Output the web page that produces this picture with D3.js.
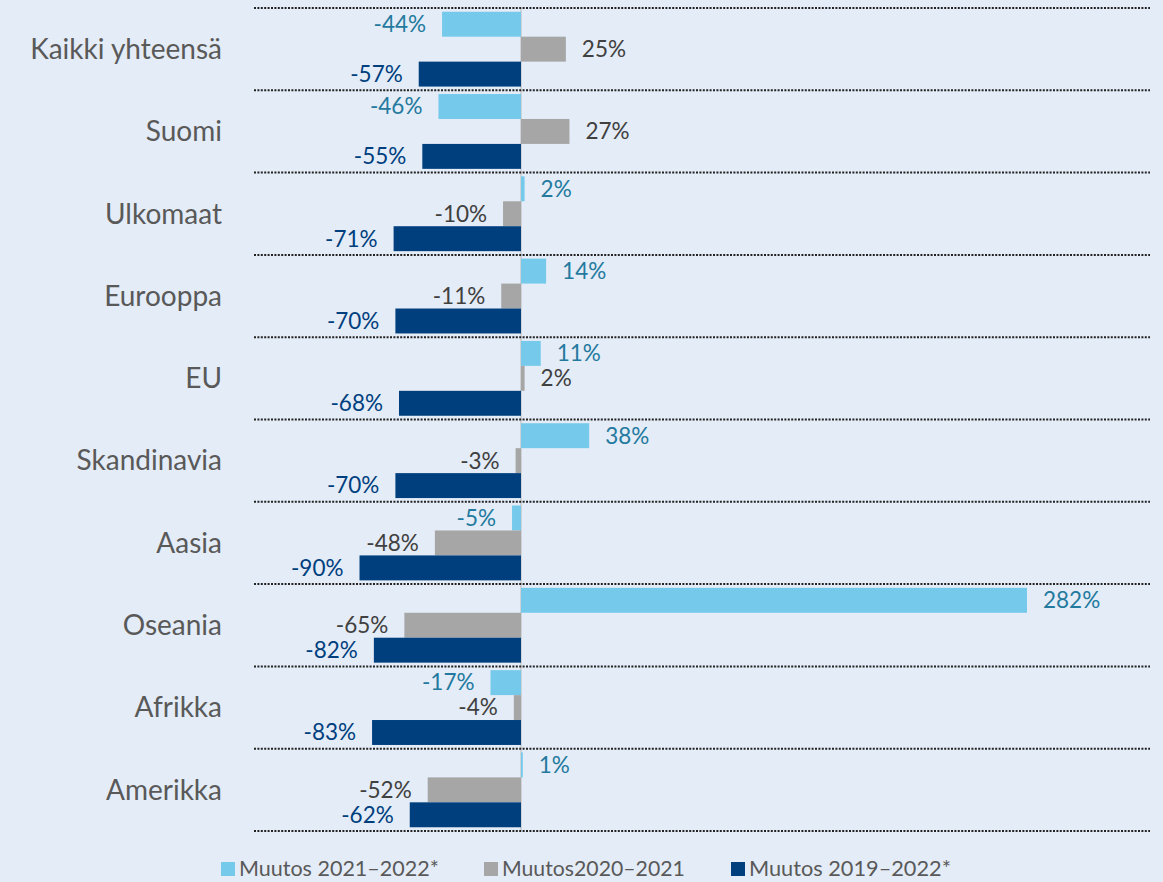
<!DOCTYPE html>
<html>
<head>
<meta charset="utf-8">
<script src="https://cdn.jsdelivr.net/npm/d3@7"></script>
<style>
  body { margin: 0; background: #e4ecf7; }
  svg { display: block; font-family: Lato, "Open Sans", sans-serif; }
</style>
</head>
<body>
<div id="chart"></div>
<script>
// Data
// ================================
var categories = ["Kaikki yhteensä", "Suomi", "Ulkomaat", "Eurooppa", "EU",
  "Skandinavia", "Aasia", "Oseania", "Afrikka", "Amerikka"];
var seriesNames = ["Muutos 2021–2022*", "Muutos2020–2021", "Muutos 2019–2022*"];
var change2122 = [-44, -46, 2, 14, 11, 38, -5, 282, -17, 1];
var change2021 = [25, 27, -10, -11, 2, -3, -48, -65, -4, -52];
var change1922 = [-57, -55, -71, -70, -68, -70, -90, -82, -83, -62];

var seriesValues = [change2122, change2021, change1922];
var barColors = ["#75caec", "#a6a6a6", "#003f7e"];
var labelColors = ["#237a9e", "#404040", "#003f7e"];

// Set up chart
// ================================
var svgWidth = 1163;
var svgHeight = 882;

var svg = d3.select("#chart")
  .append("svg")
  .attr("width", svgWidth)
  .attr("height", svgHeight);

var xScale = d3.scaleLinear()
  .domain([0, 282])
  .range([521, 1027]);

var yScale = d3.scaleBand()
  .domain(categories)
  .range([8, 831])
  .paddingInner(0);

var ySub = d3.scaleBand()
  .domain(d3.range(seriesNames.length))
  .range([0, yScale.bandwidth()])
  .paddingInner(0)
  .paddingOuter(0.15);

// flatten into rows
var rows = [];
categories.forEach(function (c, i) {
  seriesValues.forEach(function (vals, s) {
    rows.push({ cat: c, s: s, value: vals[i] });
  });
});

// zero line
svg.append("line")
  .attr("x1", xScale(0)).attr("x2", xScale(0))
  .attr("y1", yScale.range()[0]).attr("y2", yScale.range()[1])
  .attr("stroke", "#cfd3d8")
  .attr("stroke-width", 2);

// bars
svg.selectAll("rect.bar")
  .data(rows)
  .enter()
  .append("rect")
  .attr("class", "bar")
  .attr("x", d => xScale(Math.min(0, d.value)))
  .attr("y", d => yScale(d.cat) + ySub(d.s))
  .attr("width", d => Math.abs(xScale(d.value) - xScale(0)))
  .attr("height", ySub.bandwidth())
  .attr("fill", d => barColors[d.s]);

// separators (dotted)
var bounds = categories.map(d => yScale(d)).concat([yScale.range()[1]]);
svg.selectAll("line.sep")
  .data(bounds)
  .enter()
  .append("line")
  .attr("class", "sep")
  .attr("x1", 254).attr("x2", 1150)
  .attr("y1", d => d).attr("y2", d => d)
  .attr("stroke", "#222")
  .attr("stroke-width", 2)
  .attr("stroke-dasharray", "2,1.4");

// value labels
svg.selectAll("text.val")
  .data(rows)
  .enter()
  .append("text")
  .attr("class", "val")
  .attr("x", d => d.value < 0 ? xScale(d.value) - 16 : xScale(d.value) + 16)
  .attr("y", d => yScale(d.cat) + ySub(d.s) + ySub.bandwidth() / 2)
  .attr("dy", "0.35em")
  .attr("text-anchor", d => d.value < 0 ? "end" : "start")
  .attr("fill", d => labelColors[d.s])
  .attr("font-size", "22.5px")
  .text(d => d.value + "%");

// category labels
svg.selectAll("text.cat")
  .data(categories)
  .enter()
  .append("text")
  .attr("class", "cat")
  .attr("x", 222)
  .attr("y", d => yScale(d) + yScale.bandwidth() / 2)
  .attr("dy", "0.35em")
  .attr("text-anchor", "end")
  .attr("fill", "#595959")
  .attr("font-size", "28px")
  .text(d => d);

// legend (text fitted to the width of the original)
var legendX = [221, 484, 731];
var legendW = [200, 183, 202];
var legend = svg.selectAll("g.legend")
  .data(seriesNames)
  .enter()
  .append("g")
  .attr("class", "legend")
  .attr("transform", (d, i) => `translate(${legendX[i]}, 869)`);

legend.append("rect")
  .attr("x", 0).attr("y", -7)
  .attr("width", 14).attr("height", 14)
  .attr("fill", (d, i) => barColors[i]);

legend.append("text")
  .attr("dy", "0.35em")
  .attr("fill", "#595959")
  .attr("font-size", "21px")
  .text(d => d)
  .each(function (d, i) {
    var len = this.getComputedTextLength();
    var sx = legendW[i] / len;
    d3.select(this).attr("transform", `translate(18,0) scale(${sx},1)`);
  });
</script>
</body>
</html>
